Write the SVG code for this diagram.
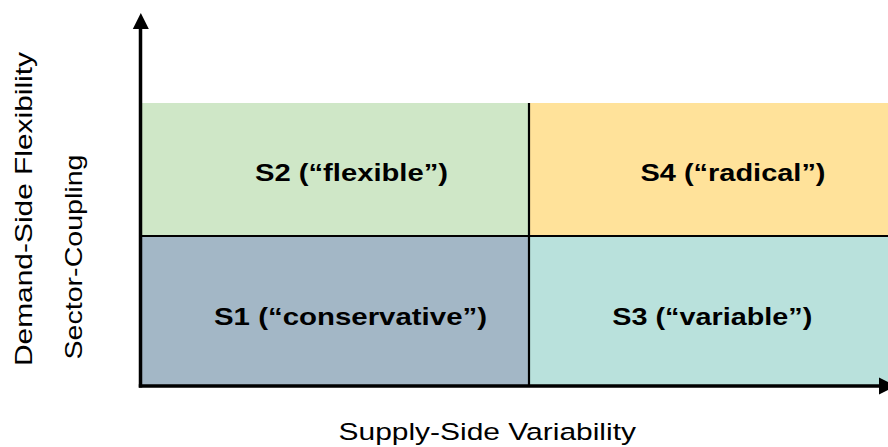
<svg xmlns="http://www.w3.org/2000/svg" width="888" height="447" viewBox="0 0 888 447">
  <defs>
    <style>
      .q-label { font-family: "Liberation Sans", Arial, sans-serif; font-weight: bold; font-size: 23.7px; fill: #000; }
      .axis-label { font-family: "Liberation Sans", Arial, sans-serif; font-size: 24.5px; fill: #000; }
      .axis { stroke: #000; stroke-width: 3.5; fill: none; }
      .divider { stroke: #000; stroke-width: 2.2; fill: none; }
    </style>
  </defs>

  <rect width="888" height="447" fill="#fff"/>

  <!-- Quadrants -->
  <g id="s2-flexible">
    <rect x="142" y="103" width="387" height="133" fill="#CFE7C7"/>
    <text class="q-label" x="255" y="181" textLength="193" lengthAdjust="spacingAndGlyphs">S2 (“flexible”)</text>
  </g>
  <g id="s4-radical">
    <rect x="529" y="103" width="359" height="133" fill="#FFE29A"/>
    <text class="q-label" x="640.5" y="181" textLength="185" lengthAdjust="spacingAndGlyphs">S4 (“radical”)</text>
  </g>
  <g id="s1-conservative">
    <rect x="142" y="236" width="387" height="150" fill="#A3B7C6"/>
    <text class="q-label" x="214" y="324.5" textLength="273" lengthAdjust="spacingAndGlyphs">S1 (“conservative”)</text>
  </g>
  <g id="s3-variable">
    <rect x="529" y="236" width="359" height="150" fill="#B9E1DC"/>
    <text class="q-label" x="612.3" y="324.5" textLength="200" lengthAdjust="spacingAndGlyphs">S3 (“variable”)</text>
  </g>

  <!-- Axes and quadrant dividers -->
  <g id="connectors">
    <line class="divider" x1="529" y1="103" x2="529" y2="386"/>
    <line class="divider" x1="142" y1="236" x2="888" y2="236"/>
    <line class="axis" x1="140.5" y1="26" x2="140.5" y2="387.5"/>
    <line class="axis" x1="138.8" y1="386" x2="882" y2="386"/>
    <polygon points="140.8,13 132.8,29 148.8,29" fill="#000"/>
    <polygon points="879,377.5 896,386 879,394.5" fill="#000"/>
  </g>

  <!-- Axis titles -->
  <g id="axis-titles">
    <text class="axis-label" x="338.5" y="439.5" textLength="297.5" lengthAdjust="spacingAndGlyphs">Supply-Side Variability</text>
    <text class="axis-label" transform="translate(32,366) rotate(-90)" x="0" y="0" textLength="314" lengthAdjust="spacingAndGlyphs">Demand-Side Flexibility</text>
    <text class="axis-label" transform="translate(81.5,359.5) rotate(-90)" x="0" y="0" textLength="205" lengthAdjust="spacingAndGlyphs">Sector-Coupling</text>
  </g>
</svg>
